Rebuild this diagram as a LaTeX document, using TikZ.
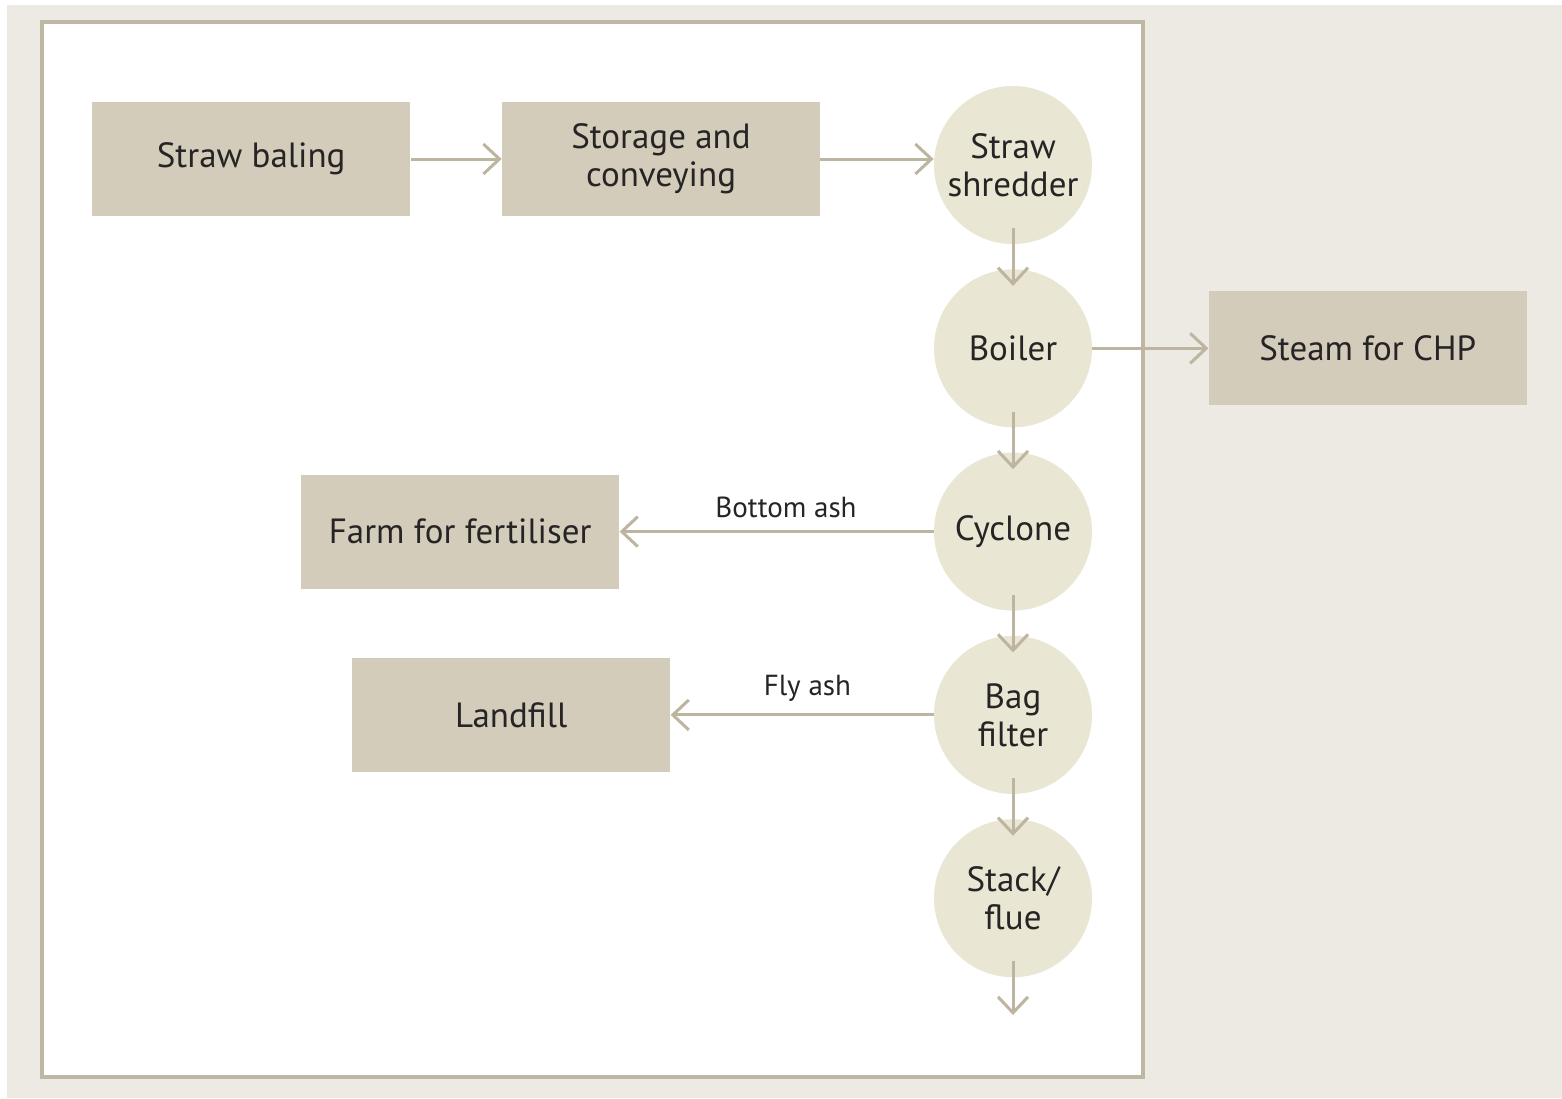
\documentclass[tikz,border=0pt]{standalone}
\usepackage{fontspec}
\setmainfont{PT Sans}
\usetikzlibrary{positioning,arrows.meta}
\definecolor{bgbeige}{HTML}{EDEAE3}
\definecolor{framegray}{HTML}{BFB7A3}
\definecolor{boxtan}{HTML}{D3CCBA}
\definecolor{unitcream}{HTML}{E9E6D3}
\definecolor{flowtan}{HTML}{BDB5A0}
\definecolor{inkdark}{HTML}{262424}

\begin{document}
\begin{tikzpicture}[
x=0.5pt, y=-0.5pt, node distance=12.25pt, stepbox/.style={rectangle, fill=boxtan, minimum width=159pt, minimum height=57pt, inner sep=0pt, align=center, text=inkdark, font=\fontsize{17.5}{19}\selectfont}, unit/.style={circle, fill=unitcream, minimum size=79pt, inner sep=0pt, align=center, text=inkdark, font=\fontsize{17.5}{19}\selectfont}, flow/.style={-{Straight Barb[length=8pt, width=15pt]}, line width=1.5pt, draw=flowtan}, sink/.style={shorten <=-8pt, shorten >=-8.5pt}, ashlabel/.style={font=\fontsize{14.5}{16}\selectfont, text=inkdark, inner sep=0pt, above=6pt} ]
\useasboundingbox (0,0) rectangle (1562,1098);
\fill[bgbeige] (7,5) rectangle (1562,1098);
\draw[framegray, line width=1.7pt, fill=white] (42,22) rectangle (1143,1077);
\node[unit] (shredder) at (1013,165) {Straw\\shredder};
\node[unit, below=of shredder] (boiler) {Boiler};
\node[unit, below=of boiler] (cyclone) {Cyclone};
\node[unit, below=of cyclone] (bag) {Bag\\filter};
\node[unit, below=of bag] (stack) {Stack/\\flue};
\coordinate (out) at (1013,1015);
\node[stepbox] (storage) at (661,159) {Storage and\\conveying};
\node[stepbox, left=45.5pt of storage] (baling) {Straw baling};
\node[stepbox, right=58pt of boiler] (steam) {Steam for CHP};
\node[stepbox, left=157pt of cyclone] (farm) {Farm for fertiliser};
\node[stepbox, left=131.5pt of bag] (landfill) {Landfill};
\draw[flow] (baling) -- (storage);
\draw[flow] (storage.east) -- (storage.east -| shredder.west);
\draw[flow, sink] (shredder) -- (boiler);
\draw[flow, sink] (boiler) -- (cyclone);
\draw[flow, sink] (cyclone) -- (bag);
\draw[flow, sink] (bag) -- (stack);
\draw[flow, shorten <=-8.5pt] (stack) -- (out);
\draw[flow] (boiler) -- (steam);
\draw[flow] (cyclone) -- node[ashlabel, pos=0.47] {Bottom ash} (farm);
\draw[flow] (bag) -- node[ashlabel, pos=0.48] {Fly ash} (landfill);
\end{tikzpicture}
\end{document}
